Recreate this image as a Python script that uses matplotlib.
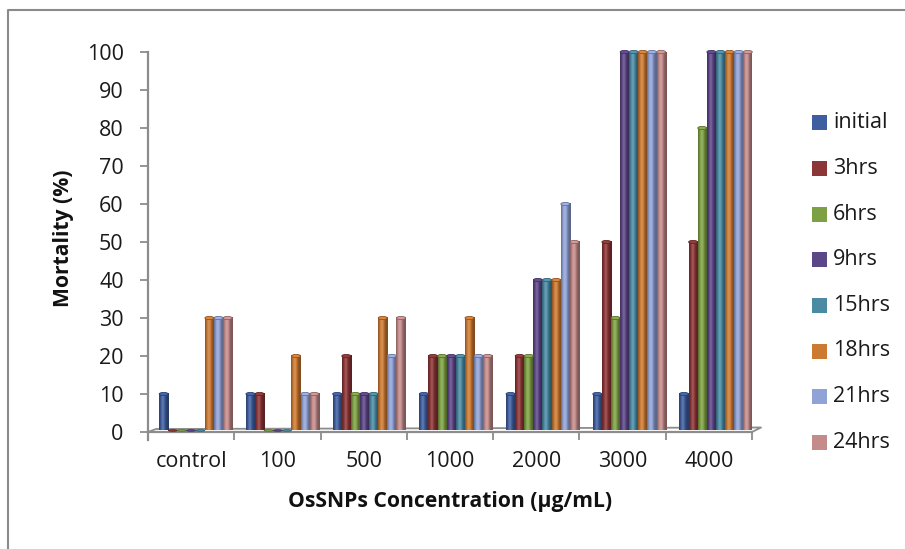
import numpy as np
import matplotlib.pyplot as plt
from matplotlib.colors import to_rgb
from matplotlib.patches import Ellipse, Rectangle
from matplotlib.lines import Line2D

plt.rcParams['font.family'] = ['Open Sans', 'DejaVu Sans']

concentrations = ["control", "100", "500", "1000", "2000", "3000", "4000"]
times = ["initial", "3hrs", "6hrs", "9hrs", "15hrs", "18hrs", "21hrs", "24hrs"]

initial = [10, 10, 10, 10, 10, 10, 10]
hrs3 = [0, 10, 20, 20, 20, 50, 50]
hrs6 = [0, 0, 10, 20, 20, 30, 80]
hrs9 = [0, 0, 10, 20, 40, 100, 100]
hrs15 = [0, 0, 10, 20, 40, 100, 100]
hrs18 = [30, 20, 30, 30, 40, 100, 100]
hrs21 = [30, 10, 20, 20, 60, 100, 100]
hrs24 = [30, 10, 30, 20, 50, 100, 100]
series = [initial, hrs3, hrs6, hrs9, hrs15, hrs18, hrs21, hrs24]

colors = ["#3f5e9f", "#8c3637", "#7ea044", "#5d4687", "#4a8aa3",
          "#cc7a32", "#91a2d6", "#c48b8b"]

W, H = 905, 549
fig = plt.figure(figsize=(W / 100, H / 100), dpi=100)


def fx(px):
    return px / W


def fy(py):
    return 1 - py / H


ax = fig.add_axes([fx(148), fy(432), fx(752) - fx(148), fy(52) - fy(432)])
for s in ax.spines.values():
    s.set_visible(False)

px_y = 100 / 380.0          # data units per pixel (vertical)
px_x = 1 / 86.0             # category units per pixel (horizontal)

# cylinder shading across the width of a bar
t = np.linspace(0, 1, 24)
shade = 0.62 + 0.55 * np.exp(-((t - 0.38) / 0.28) ** 2)


def cylinder(c):
    rgb = np.array(to_rgb(c))
    out = np.empty((1, len(t), 3))
    for i, s in enumerate(shade):
        if s <= 1:
            out[0, i] = rgb * s
        else:
            out[0, i] = rgb + (1 - rgb) * (s - 1)
    return np.clip(out, 0, 1)


nser = len(series)
bw = 9.1 * px_x
cap_h = 3.2 * px_y
for ci in range(len(concentrations)):
    shift = (4.5 + ci * 0.42) * px_x
    left = ci + shift - nser * bw / 2
    for si, vals in enumerate(series):
        v = vals[ci]
        x0 = left + si * bw
        col = colors[si]
        if v > 0:
            ax.imshow(cylinder(col), extent=[x0, x0 + bw, 0.4, v],
                      aspect='auto', interpolation='bilinear', zorder=3)
        dark = np.array(to_rgb(col)) * 0.7
        light = np.clip(np.array(to_rgb(col)) * 1.1, 0, 1)
        ax.add_patch(Ellipse((x0 + bw / 2, max(v, 0.4)), bw * 0.98,
                             cap_h if v > 0 else cap_h * 0.5,
                             facecolor=light, edgecolor=dark, lw=0.6,
                             zorder=4, clip_on=False))

ax.set_xlim(-0.5, len(concentrations) - 0.5)
ax.set_ylim(0, 100)

# floor and axis lines
grey = "#8c8c8c"
x_l, x_r = -0.5, len(concentrations) - 0.5
drop = 8 * px_y
ax.add_line(Line2D([x_l, x_l], [100, -drop], color=grey, lw=1.6, clip_on=False, zorder=2))
ax.add_line(Line2D([x_l, x_r], [0, 0], color=grey, lw=1.6, clip_on=False, zorder=2))
ax.add_line(Line2D([x_l, x_l + 8 * px_x, x_r + 9 * px_x, x_r],
                   [0, 3 * px_y, 4.5 * px_y, 0],
                   color=grey, lw=1.3, clip_on=False, zorder=2))

ax.set_yticks(np.arange(0, 101, 10))
ax.tick_params(axis='y', length=6, width=1.3, color=grey, pad=11.5,
               labelsize=15.5, labelcolor="#1a1a1a")
ax.set_xticks(np.arange(len(concentrations) + 1) - 0.5)
ax.set_xticklabels([])
ax.tick_params(axis='x', which='major', length=6, width=1.3, color=grey)
ax.set_xticks(np.arange(len(concentrations)), minor=True)
ax.set_xticklabels(concentrations, minor=True)
ax.tick_params(axis='x', which='minor', length=0, pad=14, labelsize=15.5,
               labelcolor="#1a1a1a")

fig.text(fx(450), fy(502), "OsSNPs Concentration (µg/mL)", ha='center',
         va='center', fontsize=15.2, fontweight='bold', color="#111111")
fig.text(fx(63), fy(238), "Mortality (%)", ha='center', va='center',
         rotation=90, fontsize=15.2, fontweight='bold', color="#111111")

# legend
for i, (name, col) in enumerate(zip(times, colors)):
    yc = 123 + i * 45.6
    fig.patches.append(Rectangle((fx(812), fy(yc + 7.5)), fx(15), 15 / H,
                                 transform=fig.transFigure, facecolor=col,
                                 edgecolor='none'))
    fig.text(fx(833), fy(yc), name, ha='left', va='center', fontsize=15.5,
             color="#1a1a1a")

# outer frame
fig.add_artist(Line2D([fx(8), fx(8), 1.0], [0.0, fy(10), fy(10)],
                      transform=fig.transFigure, color="#8a8a8a", lw=1.5))

fig.savefig("out.png", dpi=100)
